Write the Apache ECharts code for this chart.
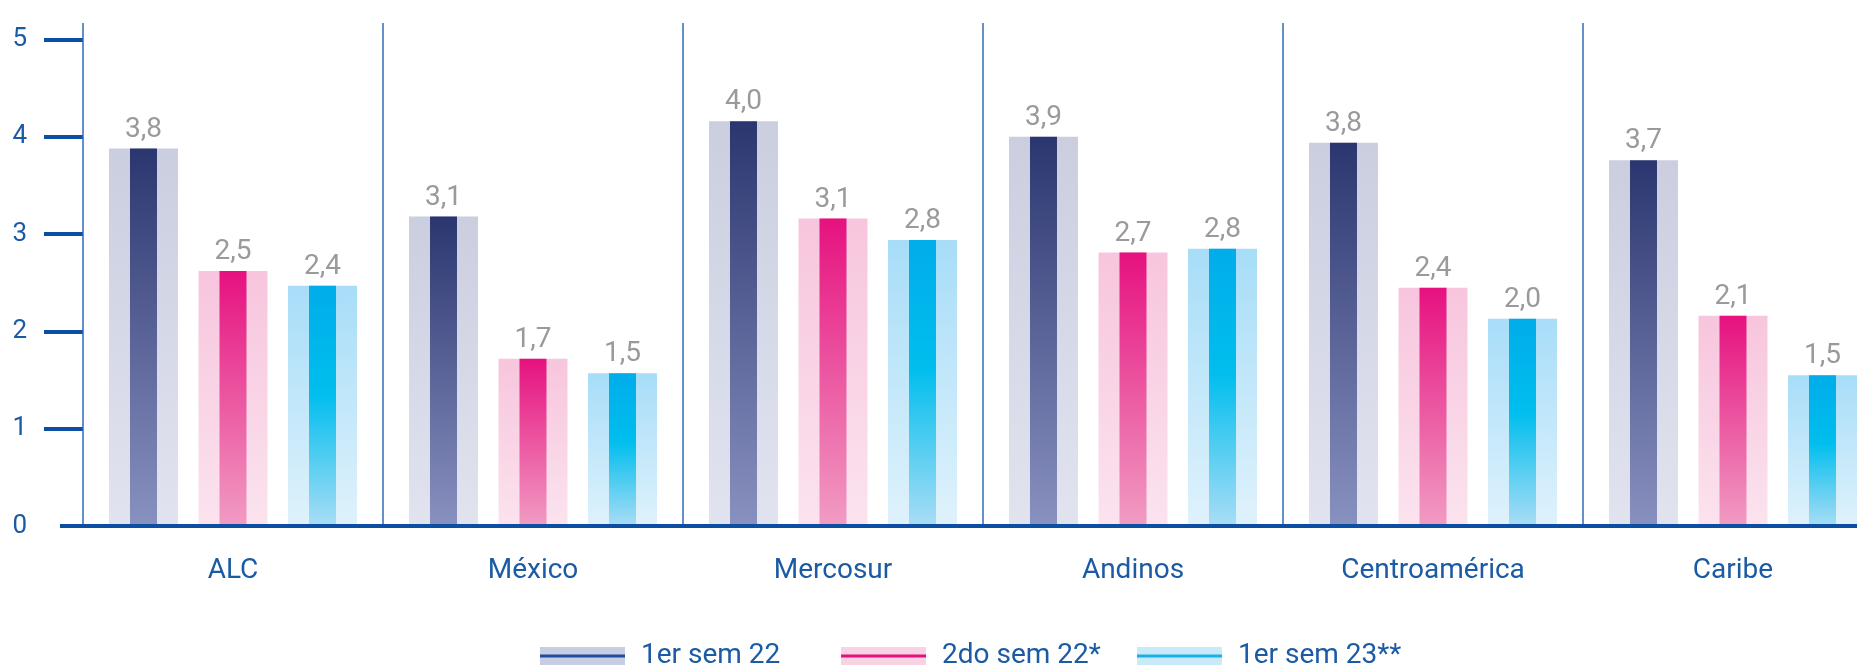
<!DOCTYPE html>
<html>
<head>
<meta charset="utf-8">
<script src="https://cdn.jsdelivr.net/npm/echarts@6/dist/echarts.min.js"></script>
<style>
html,body{margin:0;padding:0;background:#fff;}
#main{width:1857px;height:667px;}
</style>
</head>
<body>
<div id="main"></div>
<script>
// ---- data ----
const categories = ['ALC', 'México', 'Mercosur', 'Andinos', 'Centroamérica', 'Caribe'];
const seriesNames = ['1er sem 22', '2do sem 22*', '1er sem 23**'];
const sem1_22 = [3.88, 3.18, 4.16, 4.00, 3.94, 3.76];
const sem2_22 = [2.62, 1.72, 3.16, 2.81, 2.45, 2.16];
const sem1_23 = [2.47, 1.57, 2.94, 2.85, 2.13, 1.55];
const sem1_22Labels = ['3,8', '3,1', '4,0', '3,9', '3,8', '3,7'];
const sem2_22Labels = ['2,5', '1,7', '3,1', '2,7', '2,4', '2,1'];
const sem1_23Labels = ['2,4', '1,5', '2,8', '2,8', '2,0', '1,5'];
const yTicks = [0, 1, 2, 3, 4, 5];
const yMax = 5.17;

// ---- styles ----
const FONT = 'Roboto';
const BLUE = '#1B5BA5';
const AXIS = '#0B4EA2';
const LEGEND_FONT = 28;
const legendLefts = [540, 841, 1137];
function grad(stops) {
  return new echarts.graphic.LinearGradient(0, 0, 0, 1,
    stops.map(s => ({ offset: s[0], color: s[1] })));
}
const wideColors = [
  grad([[0, '#CACEDF'], [1, '#E1E3EF']]),
  grad([[0, '#F7C5DD'], [1, '#FBE3EE']]),
  grad([[0, '#A7DDF8'], [1, '#DFF2FC']])
];
const narrowColors = [
  grad([[0, '#2B3670'], [1, '#8891BF']]),
  grad([[0, '#E6117F'], [1, '#F19CC3']]),
  grad([[0, '#00ADE9'], [0.45, '#00BEEE'], [1, '#A9DDF5']])
];
const legendWide = ['#C9CDE3', '#F8D3E4', '#C8EAF9'];
const legendLine = ['#1F4EA0', '#E6117F', '#1AAFE8'];
const values = [sem1_22, sem2_22, sem1_23];
const labels = [sem1_22Labels, sem2_22Labels, sem1_23Labels];
const SUFFIX = ' ·';

const series = [];
for (let i = 0; i < 3; i++) {
  series.push({
    name: seriesNames[i],
    type: 'bar',
    xAxisIndex: 0,
    barWidth: 69,
    barGap: '29.7%',
    data: values[i],
    itemStyle: { color: wideColors[i] },
    silent: true
  });
}
for (let i = 0; i < 3; i++) {
  series.push({
    name: seriesNames[i] + SUFFIX,
    type: 'bar',
    xAxisIndex: 1,
    barWidth: 27,
    barGap: '231.5%',
    data: values[i],
    itemStyle: { color: narrowColors[i] },
    label: {
      show: true,
      position: 'top',
      distance: 5,
      color: '#9A9A9A',
      fontSize: 28,
      fontFamily: FONT,
      formatter: p => labels[i][p.dataIndex]
    }
  });
}

const legends = [];
seriesNames.forEach((n, i) => {
  legends.push({
    left: legendLefts[i], top: 642, padding: 0, z: 4,
    itemWidth: 85, itemHeight: 18, icon: 'rect', selectedMode: false,
    textStyle: { color: BLUE, fontSize: LEGEND_FONT, fontFamily: FONT, padding: [0, 0, 0, 11] },
    data: [{ name: n, itemStyle: { color: legendWide[i] } }]
  });
  legends.push({
    left: legendLefts[i], top: 642, padding: 0, z: 10,
    itemWidth: 85, itemHeight: 3, icon: 'rect', selectedMode: false,
    formatter: s => s.replace(SUFFIX, ''),
    textStyle: { color: 'rgba(0,0,0,0)', fontSize: LEGEND_FONT, fontFamily: FONT, padding: [0, 0, 0, 11] },
    data: [{ name: n + SUFFIX, itemStyle: { color: legendLine[i] } }]
  });
});

const option = {
  animation: false,
  backgroundColor: '#fff',
  grid: { left: 83, width: 1800, top: 23, bottom: 141, outerBoundsMode: 'none', containLabel: false },
  xAxis: [
    {
      type: 'category',
      z: 5,
      data: categories,
      axisLine: { lineStyle: { color: AXIS, width: 4 } },
      axisTick: { show: false },
      axisLabel: { color: BLUE, fontSize: 28, fontFamily: FONT, margin: 31, interval: 0 },
      splitLine: { show: true, interval: 0, lineStyle: { color: '#2F6DB5', width: 1.5 } }
    },
    { type: 'category', data: categories, show: false }
  ],
  yAxis: {
    type: 'value',
    min: 0,
    max: yMax,
    axisLine: { show: false },
    splitLine: { show: false },
    axisTick: { show: true, length: 39, lineStyle: { color: AXIS, width: 4 }, customValues: yTicks.slice(1) },
    axisLabel: { customValues: yTicks, color: BLUE, fontSize: 26, fontFamily: FONT, margin: 56, padding: [0, 0, 6, 0] }
  },
  legend: legends,
  series: series
};

const chart = echarts.init(document.getElementById('main'), null, { renderer: 'canvas' });
chart.setOption(option);
const y0 = chart.convertToPixel({ yAxisIndex: 0 }, 0);
chart.setOption({
  graphic: [{
    type: 'line',
    shape: { x1: 60, y1: y0, x2: 84, y2: y0 },
    style: { stroke: AXIS, lineWidth: 4 },
    z: 10
  }]
});
</script>
</body>
</html>
